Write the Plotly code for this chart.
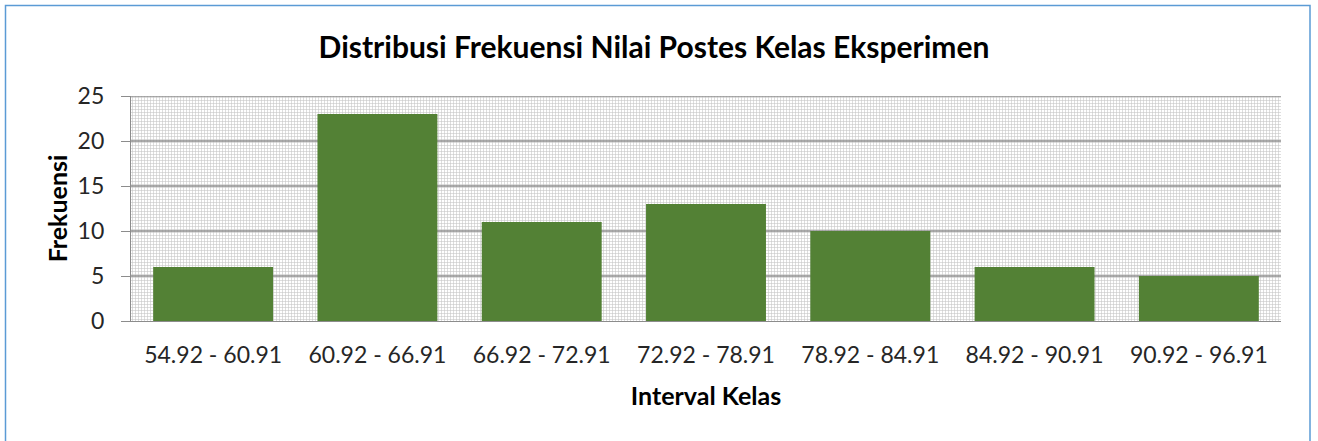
import plotly.graph_objects as go

categories = ["54.92 - 60.91", "60.92 - 66.91", "66.92 - 72.91", "72.92 - 78.91",
              "78.92 - 84.91", "84.92 - 90.91", "90.92 - 96.91"]
frekuensi = [6, 23, 11, 13, 10, 6, 5]
y_ticks = [0, 5, 10, 15, 20, 25]

W, H = 1318, 441
L, R, T, B = 131, 1318 - 1281, 96, 441 - 321
pw, ph = W - L - R, H - T - B

FONT = "Lato"
fig = go.Figure()

# Patterned plot-area background (base subplot)
fig.add_trace(go.Bar(
    x=[0.5], y=[max(y_ticks)], width=[1], xaxis="x", yaxis="y",
    marker=dict(color="white", line=dict(width=0),
                pattern=dict(shape="+", fgcolor="#8a8a8a", bgcolor="white",
                             size=3, solidity=0.34)),
    hoverinfo="skip", showlegend=False))

# Gridlines above the pattern, below bars
for v in y_ticks[1:]:
    fig.add_trace(go.Scatter(x=[0, 1], y=[v, v], mode="lines", xaxis="x", yaxis="y",
                             line=dict(color="#8c8c8c", width=1.3),
                             hoverinfo="skip", showlegend=False))

# Data bars (overlay subplot)
fig.add_trace(go.Bar(x=categories, y=frekuensi, xaxis="x2", yaxis="y2",
                     marker=dict(color="#538135", line=dict(width=0)),
                     showlegend=False))

fig.update_layout(
    width=W, height=H,
    margin=dict(l=L, r=R, t=T, b=B),
    paper_bgcolor="white", plot_bgcolor="white",
    bargap=0.27,
    font=dict(family=FONT, color="#262626"),
    title=dict(text="<b>Distribusi Frekuensi Nilai Postes Kelas Eksperimen</b>",
               xref="container", x=654 / W, xanchor="center",
               yref="container", y=1 - 47 / H, yanchor="middle",
               font=dict(family=FONT, size=30, color="black")),
    xaxis=dict(range=[0, 1], visible=False, fixedrange=True),
    yaxis=dict(range=[0, 25], tickvals=y_ticks, showgrid=False, zeroline=False,
               showline=True, linecolor="#8c8c8c", linewidth=1.3,
               ticks="outside", ticklen=9, tickcolor="#8c8c8c", tickwidth=1.3,
               ticklabelstandoff=12,
               tickfont=dict(family=FONT, size=23, color="#262626"),
               title=dict(text="<b>Frekuensi</b>", standoff=2,
                          font=dict(family=FONT, size=25, color="black"))),
    xaxis2=dict(overlaying="x", type="category", categoryarray=categories,
                range=[-0.5, len(categories) - 0.5],
                showline=True, linecolor="#8c8c8c", linewidth=1.3,
                ticks="", ticklabelstandoff=13,
                tickfont=dict(family=FONT, size=23, color="#262626"),
                title=dict(text="<b>Interval Kelas</b>", standoff=20,
                           font=dict(family=FONT, size=25, color="black"))),
    yaxis2=dict(overlaying="y", range=[0, 25], visible=False),
    shapes=[dict(type="rect", xref="paper", yref="paper",
                 x0=(5.5 - L) / pw, x1=(1310 - L) / pw,
                 y0=(H - B - 460) / ph, y1=(H - B - 5.5) / ph,
                 line=dict(color="#5b9bd5", width=1.5), fillcolor="rgba(0,0,0,0)")],
)

fig.write_html("out.html", config={"displayModeBar": False},
               post_script="document.body.style.margin='0';")
